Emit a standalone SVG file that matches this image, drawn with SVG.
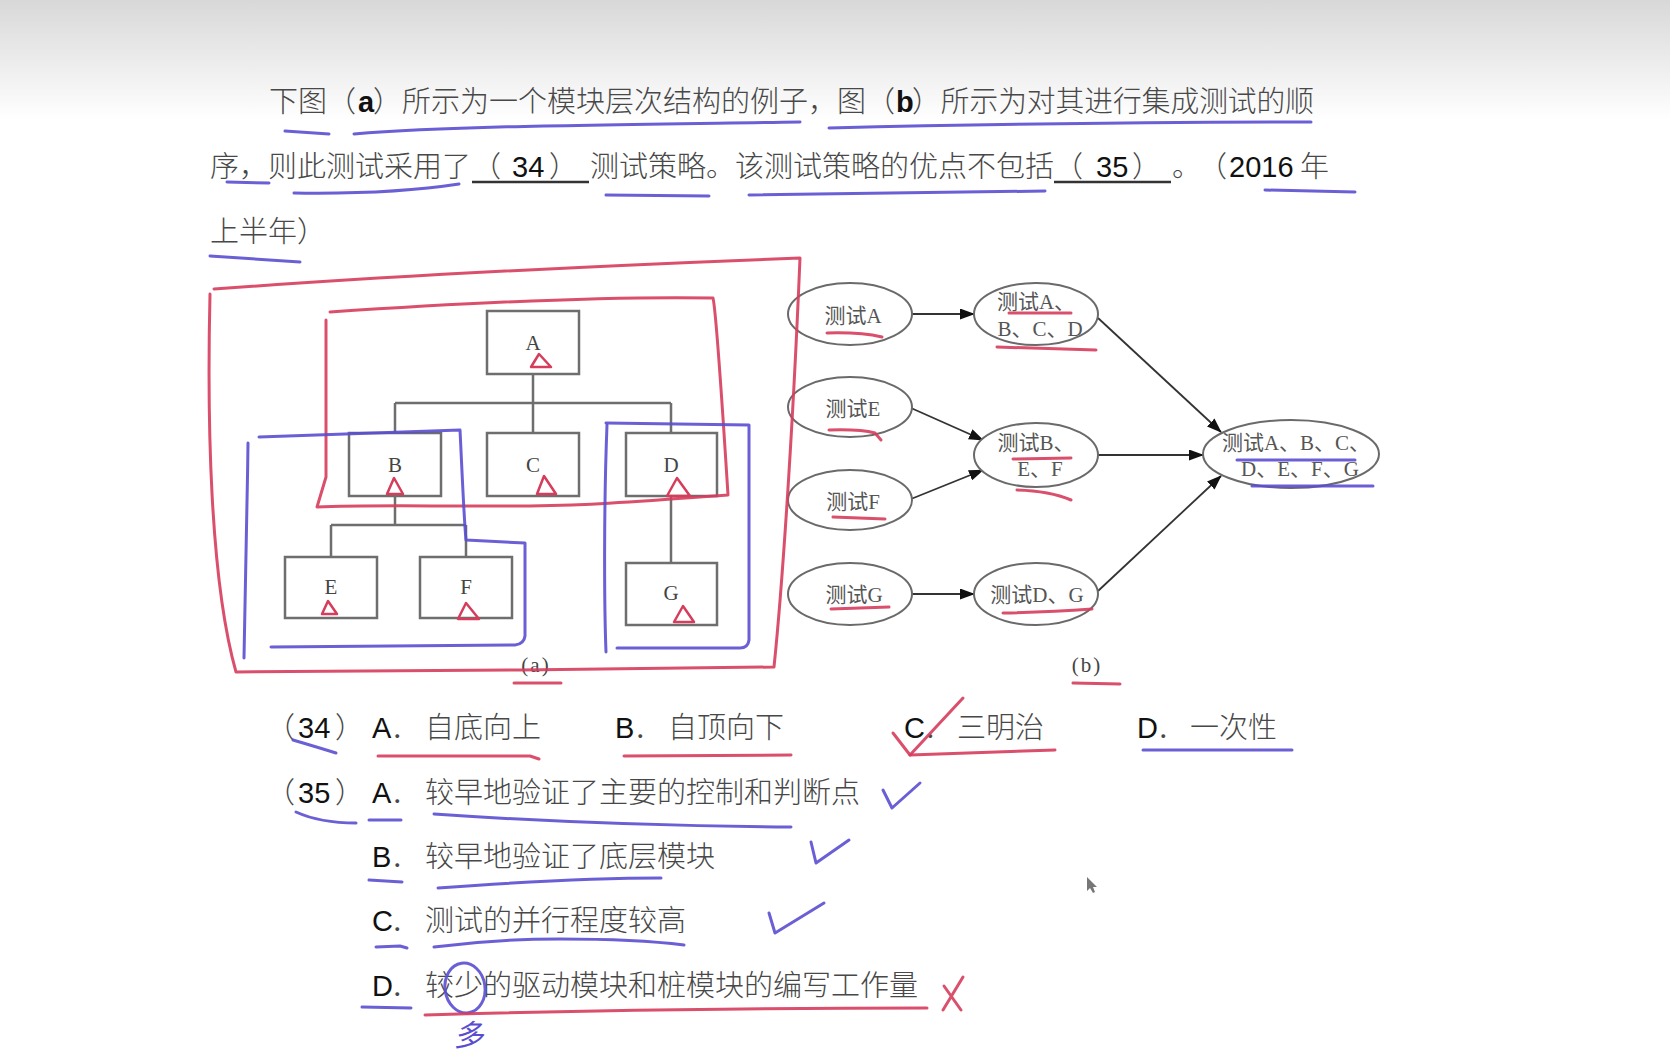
<svg xmlns="http://www.w3.org/2000/svg" width="1670" height="1056" viewBox="0 0 1670 1056">
<defs>
<linearGradient id="topbg" x1="0" y1="0" x2="0" y2="1">
<stop offset="0" stop-color="#d8d8d8"/>
<stop offset="1" stop-color="#ffffff"/>
</linearGradient>
<marker id="arr" markerUnits="userSpaceOnUse" markerWidth="15" markerHeight="11" refX="14" refY="5.5" orient="auto">
<path d="M0,0 L15,5.5 L0,11 Z" fill="#111"/>
</marker>
<style>
.cn{font-family:"Noto Sans CJK SC","Noto Sans",sans-serif;fill:#484848;font-weight:300}
.lat{font-family:"Liberation Sans",Arial,sans-serif;fill:#111}
.p{font-size:29px}
.box{fill:#fff;stroke:#6e6e6e;stroke-width:2.5}
.tree{fill:none;stroke:#6e6e6e;stroke-width:2.5}
.lbl{font-family:"Liberation Serif","Times New Roman",serif;font-size:21px;fill:#444;text-anchor:middle}
.ell{fill:#fff;stroke:#6a6a6a;stroke-width:2}
.et{font-family:"Noto Sans CJK SC",sans-serif;font-size:21px;fill:#555;text-anchor:middle;font-weight:400}
.es{font-family:"Liberation Serif",serif}
.arrow{fill:none;stroke:#333;stroke-width:1.8;marker-end:url(#arr)}
.blue{fill:none;stroke:#5a4ed0;stroke-width:3;stroke-linecap:round;stroke-linejoin:round;opacity:0.9}
.red{fill:none;stroke:#d63c5c;stroke-width:3;stroke-linecap:round;stroke-linejoin:round;opacity:0.9}
.redt{fill:none;stroke:#d63c5c;stroke-width:2.5;stroke-linejoin:round}
.blank{stroke:#333;stroke-width:2.5}
</style>
</defs>
<rect x="0" y="0" width="1670" height="1056" fill="#fff"/>
<rect x="0" y="0" width="1670" height="120" fill="url(#topbg)"/>

<g id="question">
<text class="cn p" x="269" y="112">下图（</text>
<text class="lat p" x="358" y="112" font-weight="bold" font-size="27">a</text>
<text class="cn p" x="373" y="112">）所示为一个模块层次结构的例子，图（</text>
<text class="lat p" x="896" y="112" font-weight="bold" font-size="27">b</text>
<text class="cn p" x="912" y="112" textLength="402" lengthAdjust="spacingAndGlyphs">）所示为对其进行集成测试的顺</text>

<text class="cn p" x="210" y="177">序，则此测试采用了</text>
<line class="blank" x1="472" y1="182" x2="589" y2="182"/>
<text class="cn p" x="472" y="177">（</text>
<text class="lat p" x="512" y="177" font-size="28">34</text>
<text class="cn p" x="549" y="177">）</text>
<text class="cn p" x="590" y="177">测试策略。该测试策略的优点不包括</text>
<line class="blank" x1="1054" y1="182" x2="1171" y2="182"/>
<text class="cn p" x="1054" y="177">（</text>
<text class="lat p" x="1096" y="177" font-size="28">35</text>
<text class="cn p" x="1132" y="177">）</text>
<text class="cn p" x="1172" y="177">。</text>
<text class="cn p" x="1198" y="177">（</text>
<text class="lat p" x="1229" y="177" font-size="28">2016</text>
<text class="cn p" x="1300" y="177">年</text>

<text class="cn p" x="210" y="242">上半年）</text>
</g>

<g id="connectors">
<path class="tree" d="M533,374 V403 M395,403 H671 M395,403 V433 M533,403 V433 M671,403 V433"/>
<path class="tree" d="M395,496 V525 M331,525 H466 M331,525 V557 M466,525 V557"/>
<path class="tree" d="M671,496 V563"/>
<path class="arrow" d="M912,314 L974,314"/>
<path class="arrow" d="M911,408 L983,440"/>
<path class="arrow" d="M911,499 L983,470"/>
<path class="arrow" d="M912,594 L974,594"/>
<path class="arrow" d="M1098,318 L1221,432"/>
<path class="arrow" d="M1098,455 L1203,455"/>
<path class="arrow" d="M1098,591 L1221,476"/>
</g>

<g id="node-A"><rect class="box" x="487" y="311" width="92" height="63"/><text class="lbl" x="533" y="350">A</text></g>
<g id="node-B"><rect class="box" x="349" y="433" width="92" height="63"/><text class="lbl" x="395" y="472">B</text></g>
<g id="node-C"><rect class="box" x="487" y="433" width="92" height="63"/><text class="lbl" x="533" y="472">C</text></g>
<g id="node-D"><rect class="box" x="626" y="433" width="91" height="63"/><text class="lbl" x="671" y="472">D</text></g>
<g id="node-E"><rect class="box" x="285" y="557" width="92" height="61"/><text class="lbl" x="331" y="594">E</text></g>
<g id="node-F"><rect class="box" x="420" y="557" width="92" height="61"/><text class="lbl" x="466" y="594">F</text></g>
<g id="node-G"><rect class="box" x="626" y="563" width="91" height="62"/><text class="lbl" x="671" y="600">G</text></g>
<text class="lbl" x="536" y="672" font-size="19" letter-spacing="2">(a)</text>

<g id="node-testA"><ellipse class="ell" cx="850" cy="314" rx="62" ry="31"/><text class="et" x="853" y="323" font-size="22">测试<tspan class="es">A</tspan></text></g>
<g id="node-testABCD"><ellipse class="ell" cx="1036" cy="314" rx="62" ry="31"/><text class="et" x="1036" y="309" font-size="20">测试<tspan class="es">A</tspan>、</text><text class="et" x="1040" y="336" font-size="20"><tspan class="es">B</tspan>、<tspan class="es">C</tspan>、<tspan class="es">D</tspan></text></g>
<g id="node-testE"><ellipse class="ell" cx="850" cy="407" rx="62" ry="30"/><text class="et" x="853" y="416" font-size="22">测试<tspan class="es">E</tspan></text></g>
<g id="node-testBEF"><ellipse class="ell" cx="1036" cy="455" rx="62" ry="32"/><text class="et" x="1036" y="450" font-size="20">测试<tspan class="es">B</tspan>、</text><text class="et" x="1040" y="476" font-size="20"><tspan class="es">E</tspan>、<tspan class="es">F</tspan></text></g>
<g id="node-testF"><ellipse class="ell" cx="850" cy="500" rx="62" ry="30"/><text class="et" x="853" y="509" font-size="22">测试<tspan class="es">F</tspan></text></g>
<g id="node-testG"><ellipse class="ell" cx="850" cy="594" rx="62" ry="31"/><text class="et" x="854" y="602" font-size="22">测试<tspan class="es">G</tspan></text></g>
<g id="node-testDG"><ellipse class="ell" cx="1036" cy="594" rx="62" ry="31"/><text class="et" x="1037" y="602" font-size="22">测试<tspan class="es">D</tspan>、<tspan class="es">G</tspan></text></g>
<g id="node-testAll"><ellipse class="ell" cx="1291" cy="454" rx="88" ry="34"/><text class="et" x="1296" y="450" font-size="19">测试<tspan class="es">A</tspan>、<tspan class="es">B</tspan>、<tspan class="es">C</tspan>、</text><text class="et" x="1300" y="476" font-size="19"><tspan class="es">D</tspan>、<tspan class="es">E</tspan>、<tspan class="es">F</tspan>、<tspan class="es">G</tspan></text></g>
<text class="lbl" x="1087" y="672" font-size="19" letter-spacing="2">(b)</text>

<g id="options">
<text class="cn p" x="266" y="738">（</text>
<text class="lat p" x="298" y="738" font-size="28">34</text>
<text class="cn p" x="335" y="738">）</text>
<text class="lat p" x="372" y="738" font-size="28">A</text><text class="cn p" x="391" y="738">．</text>
<text class="cn p" x="425" y="738">自底向上</text>
<text class="lat p" x="615" y="738" font-size="28">B</text><text class="cn p" x="634" y="738">．</text>
<text class="cn p" x="668" y="738">自顶向下</text>
<text class="lat p" x="904" y="738" font-size="28">C</text><text class="cn p" x="924" y="738">．</text>
<text class="cn p" x="957" y="738">三明治</text>
<text class="lat p" x="1137" y="738" font-size="28">D</text><text class="cn p" x="1157" y="738">．</text>
<text class="cn p" x="1190" y="738">一次性</text>

<text class="cn p" x="266" y="803">（</text>
<text class="lat p" x="298" y="803" font-size="28">35</text>
<text class="cn p" x="335" y="803">）</text>
<text class="lat p" x="372" y="803" font-size="28">A</text><text class="cn p" x="391" y="803">．</text>
<text class="cn p" x="425" y="803">较早地验证了主要的控制和判断点</text>
<text class="lat p" x="372" y="867" font-size="28">B</text><text class="cn p" x="391" y="867">．</text>
<text class="cn p" x="425" y="867">较早地验证了底层模块</text>
<text class="lat p" x="372" y="931" font-size="28">C</text><text class="cn p" x="391" y="931">．</text>
<text class="cn p" x="425" y="931">测试的并行程度较高</text>
<text class="lat p" x="372" y="996" font-size="28">D</text><text class="cn p" x="391" y="996">．</text>
<text class="cn p" x="425" y="996">较少的驱动模块和桩模块的编写工作量</text>
</g>

<g id="annotations">
<path class="blue" d="M285,131 L329,134"/>
<path class="blue" d="M354,134 C450,126 600,125 800,122"/>
<path class="blue" d="M829,128 C1000,124 1200,122 1311,122"/>
<path class="blue" d="M227,182 L269,183"/>
<path class="blue" d="M294,193 C360,194 420,190 459,184"/>
<path class="blue" d="M606,195 L709,196"/>
<path class="blue" d="M749,195 C850,193 950,192 1045,191"/>
<path class="blue" d="M1265,190 L1355,192"/>
<path class="blue" d="M210,256 L300,262"/>
<path class="red" d="M210,294 C207,420 210,580 236,672 L520,670 L774,667 C781,600 792,450 800,258 C640,264 420,274 214,289"/>
<path class="red" d="M330,312 C450,304 600,296 713,298 C716,310 722,400 728,495 C650,500 600,507 470,506 C420,506 360,505 317,507 L326,477 L326,320"/>
<path class="blue" d="M259,437 L460,430 C462,470 464,520 466,540 L525,543 L525,636 Q524,644 515,645 L271,647"/>
<path class="blue" d="M248,443 C247,520 245,600 244,658"/>
<path class="blue" d="M606,423 L749,425 L749,640 Q748,648 740,648 L617,648"/>
<path class="blue" d="M607,425 C604,500 604,600 606,652"/>
<path class="redt" d="M539,354 L531,367 L551,367 Z"/>
<path class="redt" d="M394,478 L387,494 L403,494 Z"/>
<path class="redt" d="M544,476 L537,494 L556,494 Z"/>
<path class="redt" d="M677,478 L667,496 L690,496 Z"/>
<path class="redt" d="M328,601 L322,614 L337,614 Z"/>
<path class="redt" d="M466,603 L458,619 L479,619 Z"/>
<path class="redt" d="M683,606 L674,622 L694,622 Z"/>
<path class="red" d="M514,683 L561,683"/>
<path class="red" d="M1073,683 L1120,684"/>
<path class="red" d="M827,333 Q860,332 882,337"/>
<path class="red" d="M1009,313 L1071,313"/>
<path class="red" d="M997,347 L1096,350"/>
<path class="red" d="M829,430 Q860,429 875,433 L881,440"/>
<path class="red" d="M833,517 L885,519"/>
<path class="red" d="M1013,459 L1071,458"/>
<path class="red" d="M1017,490 Q1050,491 1071,500"/>
<path class="red" d="M831,609 L889,607"/>
<path class="red" d="M1003,613 Q1050,612 1092,609"/>
<path class="blue" d="M1237,460 L1355,460"/>
<path class="blue" d="M1252,486 L1373,486"/>
<path class="blue" d="M293,740 Q320,748 336,753"/>
<path class="red" d="M378,756 L530,756 L539,759"/>
<path class="red" d="M624,756 L791,755"/>
<path class="red" d="M893,733 L910,755 L963,698"/>
<path class="red" d="M910,755 L1055,750"/>
<path class="blue" d="M1143,750 L1292,750"/>
<path class="blue" d="M296,812 Q320,823 356,823"/>
<path class="blue" d="M369,820 L401,820"/>
<path class="blue" d="M434,814 C550,822 650,826 791,827"/>
<path class="blue" d="M883,790 L892,808 L920,783"/>
<path class="blue" d="M811,842 L816,863 L849,840"/>
<path class="blue" d="M369,880 L402,882"/>
<path class="blue" d="M438,888 C520,882 600,878 661,878"/>
<path class="blue" d="M769,913 L775,933 L824,903"/>
<path class="blue" d="M376,947 L400,946 L407,948"/>
<path class="blue" d="M434,947 C480,941 519,939 560,939 C620,939 660,942 684,945"/>
<path class="blue" d="M362,1007 L411,1008"/>
<ellipse class="blue" cx="465" cy="988" rx="20" ry="25" transform="rotate(-8 465 988)"/>
<path class="red" d="M425,1015 C600,1010 800,1008 927,1008"/>
<path class="red" d="M943,1010 L963,977 M944,986 L961,1010"/>
<text x="458" y="1046" font-family="Noto Sans CJK SC,sans-serif" font-size="30" fill="#5a4ed0" transform="skewX(-12) translate(218 0)">多</text>
<path d="M1087,877 L1087,891 L1090,888 L1093,893 L1095,892 L1093,887 L1097,887 Z" fill="#777"/>
</g>
</svg>
